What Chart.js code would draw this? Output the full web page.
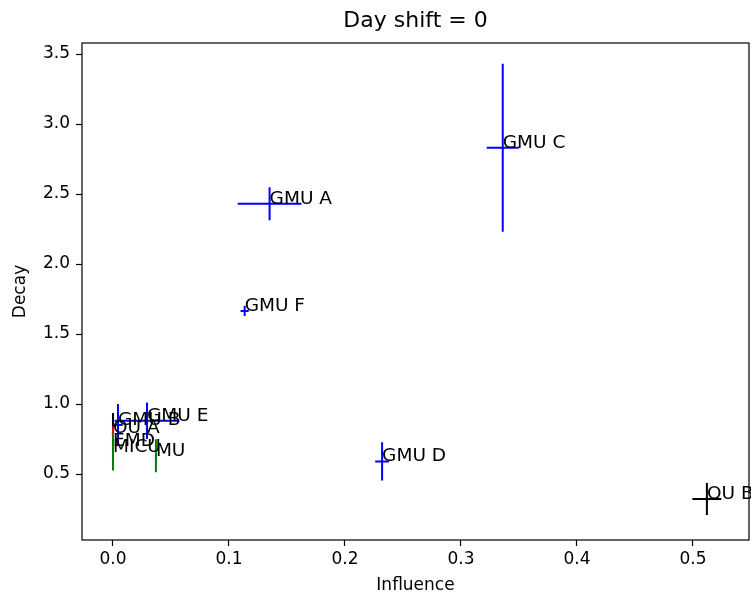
<!DOCTYPE html>
<html>
<head>
<meta charset="utf-8">
<script src="https://cdn.jsdelivr.net/npm/chart.js@4.4.1/dist/chart.umd.min.js"></script>
<style>
  html, body { margin: 0; padding: 0; background: #fff; }
</style>
</head>
<body>
<canvas id="decayChart" width="751" height="600"></canvas>
<script>
// fitted influence / decay per unit, with their standard errors
const unitNames    = ['GMU A', 'GMU B', 'GMU C', 'GMU D', 'GMU E', 'GMU F', 'OU A', 'OU B', 'EMD', 'MICU', 'MU'];
const influence    = [0.135, 0.0043, 0.336, 0.232, 0.0293, 0.1135, 0.0, 0.512, 0.0, 0.0, 0.037];
const influenceErr = [0.0275, 0.004, 0.0138, 0.006, 0.028, 0.0035, 0.001, 0.0125, 0.0005, 0.0005, 0.001];
const decay        = [2.43, 0.85, 2.83, 0.59, 0.88, 1.665, 0.79, 0.321, 0.70, 0.655, 0.63];
const decayErr     = [0.118, 0.15, 0.6, 0.136, 0.13, 0.036, 0.145, 0.114, 0.14, 0.13, 0.118];
const unitColors   = ['blue', 'blue', 'blue', 'blue', 'blue', 'blue', 'black', 'black', 'red', 'green', 'green'];

const xTicks = [0.0, 0.1, 0.2, 0.3, 0.4, 0.5];
const yTicks = [0.5, 1.0, 1.5, 2.0, 2.5, 3.0, 3.5];

const chartTitle = 'Day shift = 0';
const FONT = 'DejaVu Sans';

// error bars (no caps), the box round the axes, the unit names and the title
const errorBars = {
  id: 'errorBars',
  afterDatasetsDraw(chart) {
    const { ctx, chartArea: a } = chart;
    const x = chart.scales.x, y = chart.scales.y;

    ctx.save();
    ctx.beginPath();
    ctx.rect(a.left, a.top, a.width, a.height);
    ctx.clip();
    ctx.lineWidth = 2;
    chart.data.datasets.forEach(ds => {
      ctx.strokeStyle = ds.borderColor;
      ds.data.forEach(p => {
        const cx = x.getPixelForValue(p.x);
        const cy = y.getPixelForValue(p.y);
        ctx.beginPath();
        ctx.moveTo(x.getPixelForValue(p.x - p.xErr), cy);
        ctx.lineTo(x.getPixelForValue(p.x + p.xErr), cy);
        ctx.moveTo(cx, y.getPixelForValue(p.y - p.yErr));
        ctx.lineTo(cx, y.getPixelForValue(p.y + p.yErr));
        ctx.stroke();
      });
    });
    ctx.restore();

    ctx.save();
    ctx.strokeStyle = '#000';
    ctx.lineWidth = 1.2;
    ctx.strokeRect(a.left, a.top, a.width, a.height);

    ctx.fillStyle = '#000';
    ctx.font = '18.5px "' + FONT + '"';
    ctx.textAlign = 'left';
    ctx.textBaseline = 'alphabetic';
    chart.data.datasets.forEach(ds => {
      ds.data.forEach(p => {
        ctx.fillText(ds.label, x.getPixelForValue(p.x), y.getPixelForValue(p.y));
      });
    });

    // title centred over the axes box
    ctx.font = '22px "' + FONT + '"';
    ctx.textAlign = 'center';
    ctx.textBaseline = 'middle';
    ctx.fillText(chartTitle, (a.left + a.right) / 2, 21);
    ctx.restore();
  }
};

const datasets = unitNames.map((name, i) => ({
  label: name,
  data: [{ x: influence[i], y: decay[i], xErr: influenceErr[i], yErr: decayErr[i] }],
  borderColor: unitColors[i],
  backgroundColor: unitColors[i],
  pointRadius: 0,
  pointHoverRadius: 0
}));

const axisCommon = {
  type: 'linear',
  grid: { drawOnChartArea: false, drawTicks: true, tickLength: 6, tickColor: '#000', tickWidth: 1.2 },
  border: { display: false },
  ticks: {
    color: '#000',
    font: { family: FONT, size: 17 },
    callback: v => v.toFixed(1)
  }
};

new Chart(document.getElementById('decayChart'), {
  type: 'scatter',
  data: { datasets },
  options: {
    responsive: false,
    animation: false,
    devicePixelRatio: 1,
    layout: { padding: { left: 0, right: 2, top: 43, bottom: 0 } },
    plugins: {
      legend: { display: false },
      tooltip: { enabled: false },
      title: { display: false }
    },
    scales: {
      x: {
        ...axisCommon,
        min: -0.02672,
        max: 0.5483,
        afterBuildTicks: s => { s.ticks = xTicks.map(v => ({ value: v })); },
        afterFit: s => { s.height = 60; },
        ticks: { ...axisCommon.ticks, padding: 3, maxRotation: 0 },
        title: { display: true, text: 'Influence', color: '#000', font: { family: FONT, size: 17 }, padding: { top: 0, bottom: 4 } }
      },
      y: {
        ...axisCommon,
        min: 0.0286,
        max: 3.5786,
        afterBuildTicks: s => { s.ticks = yTicks.map(v => ({ value: v })); },
        afterFit: s => { s.width = 82; },
        ticks: { ...axisCommon.ticks, padding: 6 },
        title: { display: true, text: 'Decay', color: '#000', font: { family: FONT, size: 17 }, padding: { top: 10, bottom: 0 } }
      }
    }
  },
  plugins: [errorBars]
});
</script>
</body>
</html>
